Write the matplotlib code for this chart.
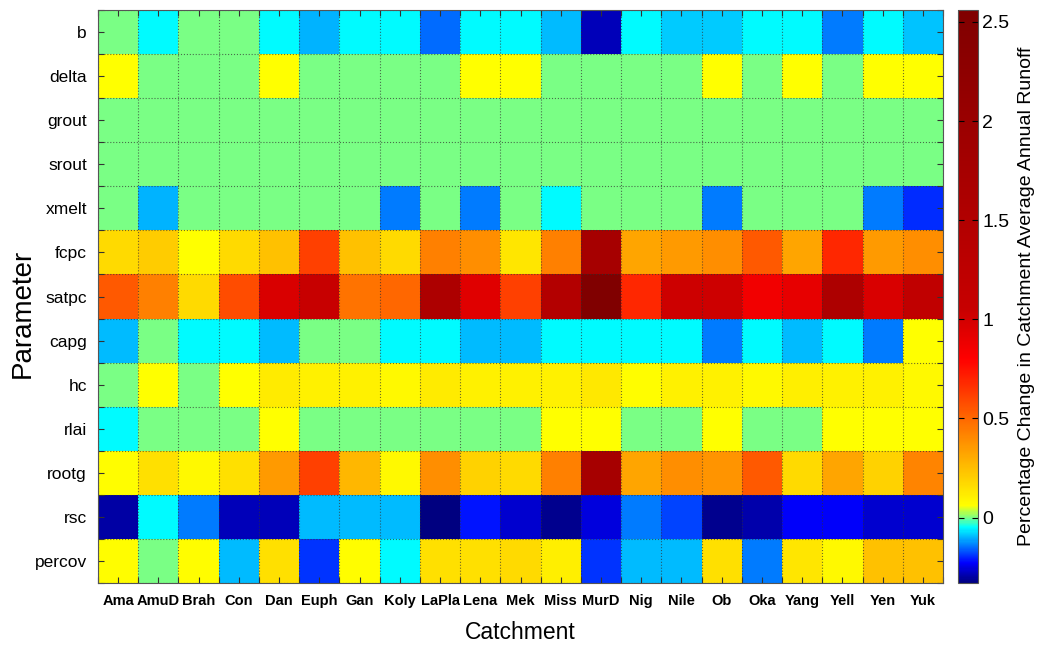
import numpy as np
import matplotlib
matplotlib.use("Agg")
import matplotlib.pyplot as plt
from matplotlib.colors import LinearSegmentedColormap, Normalize

plt.rcParams['font.family'] = ['Liberation Sans', 'DejaVu Sans']

parameters = ["b", "delta", "grout", "srout", "xmelt", "fcpc", "satpc",
              "capg", "hc", "rlai", "rootg", "rsc", "percov"]
catchments = ["Ama", "AmuD", "Brah", "Con", "Dan", "Euph", "Gan", "Koly",
              "LaPla", "Lena", "Mek", "Miss", "MurD", "Nig", "Nile", "Ob",
              "Oka", "Yang", "Yell", "Yen", "Yuk"]

b_vals      = [0, -0.05, 0, 0, -0.05, -0.10, -0.05, -0.05, -0.15, -0.05, -0.05, -0.095, -0.28, -0.05, -0.083, -0.083, -0.05, -0.05, -0.14, -0.05, -0.09]
delta_vals  = [0.06, 0, 0, 0, 0.06, 0, 0, 0, 0, 0.06, 0.06, 0, 0, 0, 0, 0.06, 0, 0.06, 0, 0.06, 0.06]
grout_vals  = [0] * 21
srout_vals  = [0] * 21
xmelt_vals  = [0, -0.10, 0, 0, 0, 0, 0, -0.14, 0, -0.14, 0, -0.05, 0, 0, 0, -0.14, 0, 0, 0, -0.14, -0.197]
fcpc_vals   = [0.17, 0.21, 0.06, 0.17, 0.245, 0.615, 0.245, 0.17, 0.43, 0.39, 0.135, 0.43, 1.75, 0.32, 0.355, 0.39, 0.54, 0.32, 0.69, 0.355, 0.39]
satpc_vals  = [0.54, 0.43, 0.17, 0.58, 0.97, 1.05, 0.47, 0.50, 1.59, 0.94, 0.615, 1.48, 2.56, 0.69, 1.02, 1.02, 0.86, 0.91, 1.59, 0.97, 1.2]
capg_vals   = [-0.095, 0, -0.05, -0.05, -0.095, 0, 0, -0.05, -0.05, -0.095, -0.095, -0.05, -0.05, -0.05, -0.05, -0.14, -0.05, -0.095, -0.05, -0.14, 0.06]
hc_vals     = [0, 0.06, 0, 0.06, 0.12, 0.1, 0.1, 0.08, 0.12, 0.1, 0.1, 0.1, 0.13, 0.07, 0.1, 0.1, 0.08, 0.11, 0.1, 0.1, 0.08]
rlai_vals   = [-0.05, 0, 0, 0, 0.06, 0, 0, 0, 0, 0, 0, 0.06, 0.06, 0, 0, 0.06, 0, 0, 0.06, 0.06, 0.06]
rootg_vals  = [0.07, 0.15, 0.08, 0.15, 0.355, 0.615, 0.27, 0.08, 0.39, 0.19, 0.17, 0.43, 1.75, 0.32, 0.39, 0.37, 0.54, 0.17, 0.32, 0.19, 0.42]
rsc_vals    = [-0.30, -0.05, -0.14, -0.28, -0.28, -0.095, -0.095, -0.095, -0.33, -0.216, -0.267, -0.318, -0.254, -0.14, -0.178, -0.318, -0.292, -0.229, -0.229, -0.267, -0.267]
percov_vals = [0.07, 0, 0.07, -0.095, 0.15, -0.19, 0.07, -0.05, 0.15, 0.15, 0.17, 0.11, -0.19, -0.095, -0.095, 0.15, -0.14, 0.135, 0.08, 0.245, 0.245]

data = np.array([b_vals, delta_vals, grout_vals, srout_vals, xmelt_vals,
                 fcpc_vals, satpc_vals, capg_vals, hc_vals, rlai_vals,
                 rootg_vals, rsc_vals, percov_vals], dtype=float)

cbar_ticks = [0, 0.5, 1, 1.5, 2, 2.5]
cbar_ticklabels = ["0", "0.5", "1", "1.5", "2", "2.5"]

vmin, vmax = -0.33, 2.56
anchors = [(-0.33, (0, 0, 0.5)), (-0.23, (0, 0, 1)), (-0.05, (0, 1, 1)),
           (0.0, (0.5, 1, 0.5)), (0.06, (1, 1, 0)), (0.8, (1, 0, 0)),
           (1.05, (0.78, 0, 0)), (2.56, (0.5, 0, 0))]
cmap = LinearSegmentedColormap.from_list(
    "custom_jet", [((v - vmin) / (vmax - vmin), c) for v, c in anchors], N=512)

fig = plt.figure(figsize=(10.38, 6.46), dpi=100)
ax = fig.add_axes([98 / 1038, 1 - 583 / 646, (943 - 98) / 1038, (583 - 10) / 646])
cax = fig.add_axes([958 / 1038, 1 - 583 / 646, 20 / 1038, (583 - 10) / 646])

nrow, ncol = data.shape
mesh = ax.pcolormesh(np.arange(ncol + 1), np.arange(nrow + 1), data,
                     cmap=cmap, norm=Normalize(vmin, vmax))
ax.set_xlim(0, ncol)
ax.set_ylim(nrow, 0)

ax.set_xticks(np.arange(ncol + 1))
ax.set_xticklabels([])
ax.set_xticks(np.arange(ncol) + 0.5, minor=True)
ax.set_xticklabels(catchments, minor=True, fontsize=10.5, fontweight='bold')
ax.set_yticks(np.arange(nrow + 1))
ax.set_yticklabels([])
ax.set_yticks(np.arange(nrow) + 0.5, minor=True)
ax.set_yticklabels(parameters, minor=True, fontsize=12.5)

for which in ("major", "minor"):
    ax.tick_params(which=which, direction='in', top=True, right=True,
                   length=4, width=0.8, color='#333333', pad=8)
ax.grid(True, which='major', linestyle=':', color='#333333', linewidth=0.8, alpha=0.7)
for s in ax.spines.values():
    s.set_color('#555555')
    s.set_linewidth(0.8)

ax.set_xlabel("Catchment", fontsize=16.5)
ax.xaxis.set_label_coords(0.5, -0.066)
ax.set_ylabel("Parameter", fontsize=20)
ax.yaxis.set_label_coords(-0.074, 0.47)

cb = fig.colorbar(mesh, cax=cax, ticks=cbar_ticks)
cb.set_ticklabels(cbar_ticklabels)
cax.tick_params(direction='in', left=True, right=True, length=4, labelsize=14, pad=3)
cb.outline.set_edgecolor('#555555')
cb.set_label("Percentage Change in Catchment Average Annual Runoff", fontsize=14, labelpad=6)

fig.savefig("out.png", dpi=100)
